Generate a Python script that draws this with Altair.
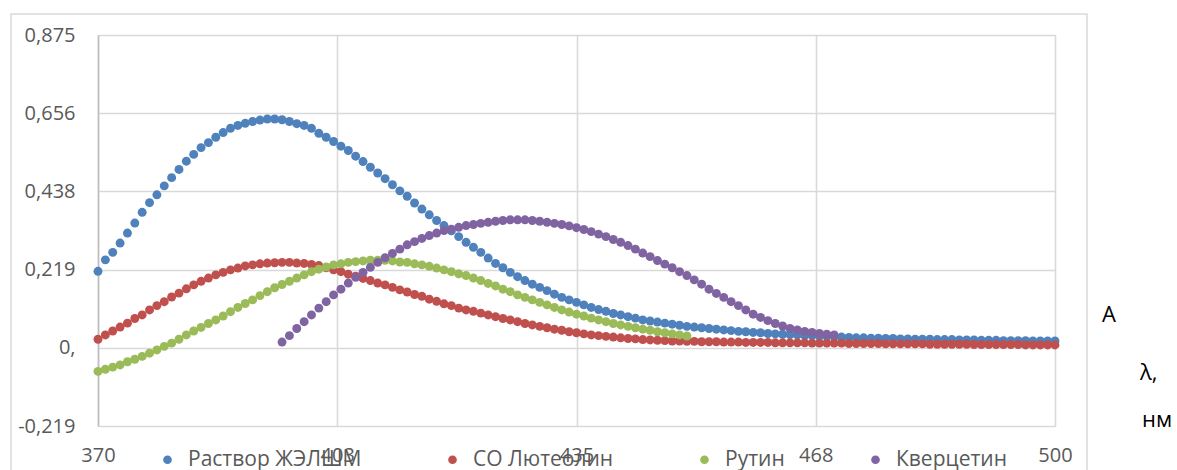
import altair as alt
import pandas as pd

# ---------------- data ----------------
series_names = ["Раствор ЖЭЛШМ", "СО Лютеолин", "Рутин", "Кверцетин"]
series_colors = ["#4f81bd", "#c0504d", "#9bbb59", "#8064a2"]

# wavelength grids (nm) — first and last wavelength of each series, step 1 nm
blue_start, blue_end = 370, 500
red_start, red_end = 370, 500
green_start, green_end = 370, 450
purple_start, purple_end = 395, 470

blue_vals = [
    0.214, 0.246, 0.267, 0.293, 0.321, 0.349, 0.379, 0.406, 0.428, 0.453,
    0.476, 0.499, 0.522, 0.541, 0.560, 0.574, 0.589, 0.602, 0.614, 0.622,
    0.628, 0.633, 0.637, 0.640, 0.640, 0.638, 0.633, 0.627, 0.622, 0.614,
    0.600, 0.589, 0.577, 0.564, 0.552, 0.536, 0.521, 0.505, 0.489, 0.473,
    0.456, 0.439, 0.424, 0.405, 0.388, 0.372, 0.356, 0.342, 0.327, 0.311,
    0.295, 0.281, 0.267, 0.251, 0.236, 0.224, 0.211, 0.199, 0.188, 0.178,
    0.169, 0.160, 0.150, 0.141, 0.134, 0.127, 0.120, 0.113, 0.107, 0.102,
    0.096, 0.092, 0.087, 0.083, 0.078, 0.075, 0.072, 0.069, 0.066, 0.063,
    0.060, 0.058, 0.056, 0.054, 0.052, 0.050, 0.048, 0.046, 0.045, 0.043,
    0.042, 0.040, 0.039, 0.038, 0.037, 0.036, 0.035, 0.034, 0.033, 0.032,
    0.031, 0.030, 0.029, 0.028, 0.028, 0.027, 0.027, 0.026, 0.026, 0.025,
    0.025, 0.024, 0.024, 0.024, 0.023, 0.023, 0.023, 0.022, 0.022, 0.022,
    0.021, 0.021, 0.021, 0.020, 0.020, 0.020, 0.020, 0.019, 0.019, 0.019,
    0.019,
]
red_vals = [
    0.024, 0.036, 0.047, 0.058, 0.069, 0.082, 0.092, 0.106, 0.118, 0.129,
    0.142, 0.153, 0.165, 0.176, 0.186, 0.195, 0.204, 0.211, 0.218, 0.223,
    0.229, 0.232, 0.235, 0.237, 0.238, 0.239, 0.239, 0.237, 0.236, 0.233,
    0.230, 0.224, 0.218, 0.213, 0.206, 0.200, 0.194, 0.188, 0.181, 0.176,
    0.169, 0.162, 0.156, 0.149, 0.144, 0.136, 0.130, 0.123, 0.118, 0.111,
    0.106, 0.102, 0.097, 0.092, 0.087, 0.082, 0.078, 0.073, 0.068, 0.064,
    0.060, 0.056, 0.052, 0.049, 0.045, 0.042, 0.039, 0.036, 0.034, 0.032,
    0.030, 0.028, 0.026, 0.025, 0.023, 0.022, 0.021, 0.020, 0.019, 0.019,
    0.018, 0.018, 0.017, 0.017, 0.017, 0.016, 0.016, 0.016, 0.015, 0.015,
    0.015, 0.015, 0.014, 0.014, 0.014, 0.014, 0.014, 0.013, 0.013, 0.013,
    0.013, 0.013, 0.012, 0.012, 0.012, 0.012, 0.012, 0.011, 0.011, 0.011,
    0.011, 0.011, 0.011, 0.010, 0.010, 0.010, 0.010, 0.010, 0.010, 0.009,
    0.009, 0.009, 0.009, 0.009, 0.009, 0.009, 0.008, 0.008, 0.008, 0.008,
    0.008,
]
green_vals = [
    -0.066, -0.060, -0.054, -0.048, -0.039, -0.032, -0.024, -0.015, -0.006, 0.004,
    0.013, 0.024, 0.036, 0.047, 0.057, 0.068, 0.078, 0.089, 0.101, 0.113,
    0.124, 0.134, 0.146, 0.157, 0.168, 0.177, 0.186, 0.195, 0.204, 0.213,
    0.220, 0.226, 0.232, 0.235, 0.239, 0.241, 0.243, 0.245, 0.245, 0.245,
    0.243, 0.240, 0.239, 0.235, 0.232, 0.228, 0.223, 0.218, 0.213, 0.207,
    0.202, 0.195, 0.188, 0.180, 0.173, 0.164, 0.157, 0.148, 0.141, 0.134,
    0.127, 0.120, 0.113, 0.106, 0.100, 0.094, 0.089, 0.083, 0.078, 0.073,
    0.068, 0.064, 0.060, 0.056, 0.052, 0.049, 0.045, 0.042, 0.039, 0.036,
    0.033,
]
purple_vals = [
    0.016, 0.034, 0.054, 0.073, 0.092, 0.111, 0.129, 0.148, 0.164, 0.181,
    0.197, 0.211, 0.225, 0.239, 0.252, 0.264, 0.276, 0.288, 0.297, 0.306,
    0.314, 0.321, 0.328, 0.332, 0.337, 0.342, 0.345, 0.348, 0.351, 0.354,
    0.356, 0.358, 0.358, 0.358, 0.356, 0.354, 0.351, 0.348, 0.345, 0.341,
    0.336, 0.331, 0.325, 0.318, 0.311, 0.303, 0.295, 0.286, 0.276, 0.265,
    0.255, 0.244, 0.234, 0.224, 0.213, 0.202, 0.190, 0.178, 0.164, 0.152,
    0.141, 0.129, 0.118, 0.106, 0.094, 0.085, 0.076, 0.068, 0.061, 0.054,
    0.050, 0.046, 0.043, 0.040, 0.038, 0.036,
]

x_ticks = [370, 402.5, 435, 467.5, 500]
x_tick_labels = ["370", "403", "435", "468", "500"]
y_ticks = [-0.21875, 0, 0.21875, 0.4375, 0.65625, 0.875]
y_tick_labels = ["-0,219", "0,", "0,219", "0,438", "0,656", "0,875"]

# ---------------- table ----------------
rows = []
for name, start, end, vals in [
    (series_names[0], blue_start, blue_end, blue_vals),
    (series_names[1], red_start, red_end, red_vals),
    (series_names[2], green_start, green_end, green_vals),
    (series_names[3], purple_start, purple_end, purple_vals),
]:
    wl = list(range(start, end + 1))
    assert len(wl) == len(vals), (name, len(wl), len(vals))
    for w, v in zip(wl, vals):
        rows.append({"series": name, "wl": w, "A": v})
df = pd.DataFrame(rows)


def label_expr(vals, labels):
    parts = [f"datum.value == {v} ? '{l}'" for v, l in zip(vals, labels)]
    return " : ".join(parts) + " : ''"


FONT = "Open Sans"
GRID = "#d9d9d9"
TXT = "#595959"
W, H = 957, 391

points = alt.Chart(df).mark_circle(size=80, opacity=1).encode(
    x=alt.X(
        "wl:Q",
        scale=alt.Scale(domain=[370, 500], nice=False, zero=False),
        axis=alt.Axis(
            values=x_ticks,
            labelExpr=label_expr(x_ticks, x_tick_labels),
            title=None,
            ticks=False,
            domain=False,
            grid=True,
            gridColor=GRID,
            gridWidth=1.6,
            labelFont=FONT,
            labelFontSize=20,
            labelColor=TXT,
            labelPadding=19,
            labelFlush=False,
        ),
    ),
    y=alt.Y(
        "A:Q",
        scale=alt.Scale(domain=[-0.21875, 0.875], nice=False, zero=False),
        axis=alt.Axis(
            values=y_ticks,
            labelExpr=label_expr(y_ticks, y_tick_labels),
            title=None,
            ticks=False,
            domain=True,
            domainColor="#bfbfbf",
            domainWidth=1.6,
            grid=True,
            gridColor=GRID,
            gridWidth=1.6,
            labelFont=FONT,
            labelFontSize=20,
            labelColor=TXT,
            labelPadding=23,
        ),
    ),
    color=alt.Color(
        "series:N",
        scale=alt.Scale(domain=series_names, range=series_colors),
        legend=alt.Legend(
            title=None,
            orient="none",
            direction="horizontal",
            legendX=59,
            legendY=414,
            symbolType="circle",
            symbolSize=75,
            symbolStrokeWidth=0,
            labelFont=FONT,
            labelFontSize=21,
            labelColor=TXT,
            labelOffset=10,
            labelLimit=0,
            columnPadding=80,
            padding=0,
        ),
    ),
    order=alt.Order("idx:Q"),
).transform_window(idx="row_number()")

# outer chart border
border = alt.Chart(pd.DataFrame({"a": [0]})).mark_rect(
    fill=None, stroke="#d9d9d9", strokeWidth=1.5
).encode(
    x=alt.value(-87), x2=alt.value(989), y=alt.value(-21), y2=alt.value(460)
)

side_labels = ["A", "λ,", "нм"]
side_x = [1004, 1042, 1044]
side_y = [287, 345, 392]
side = alt.layer(*[
    alt.Chart(pd.DataFrame({"t": [t]})).mark_text(
        align="left", baseline="alphabetic", font=FONT, fontSize=22, color="#000000"
    ).encode(x=alt.value(xx), y=alt.value(yy), text="t:N")
    for t, xx, yy in zip(side_labels, side_x, side_y)
])

chart = alt.layer(border, points, side).properties(
    width=W,
    height=H,
    autosize=alt.AutoSizeParams(type="none"),
    padding={"left": 98, "top": 35, "right": 122, "bottom": 44},
).configure_view(stroke=None).configure(background="white")

chart.save("out.html", embed_options={"renderer": "svg", "actions": False})
